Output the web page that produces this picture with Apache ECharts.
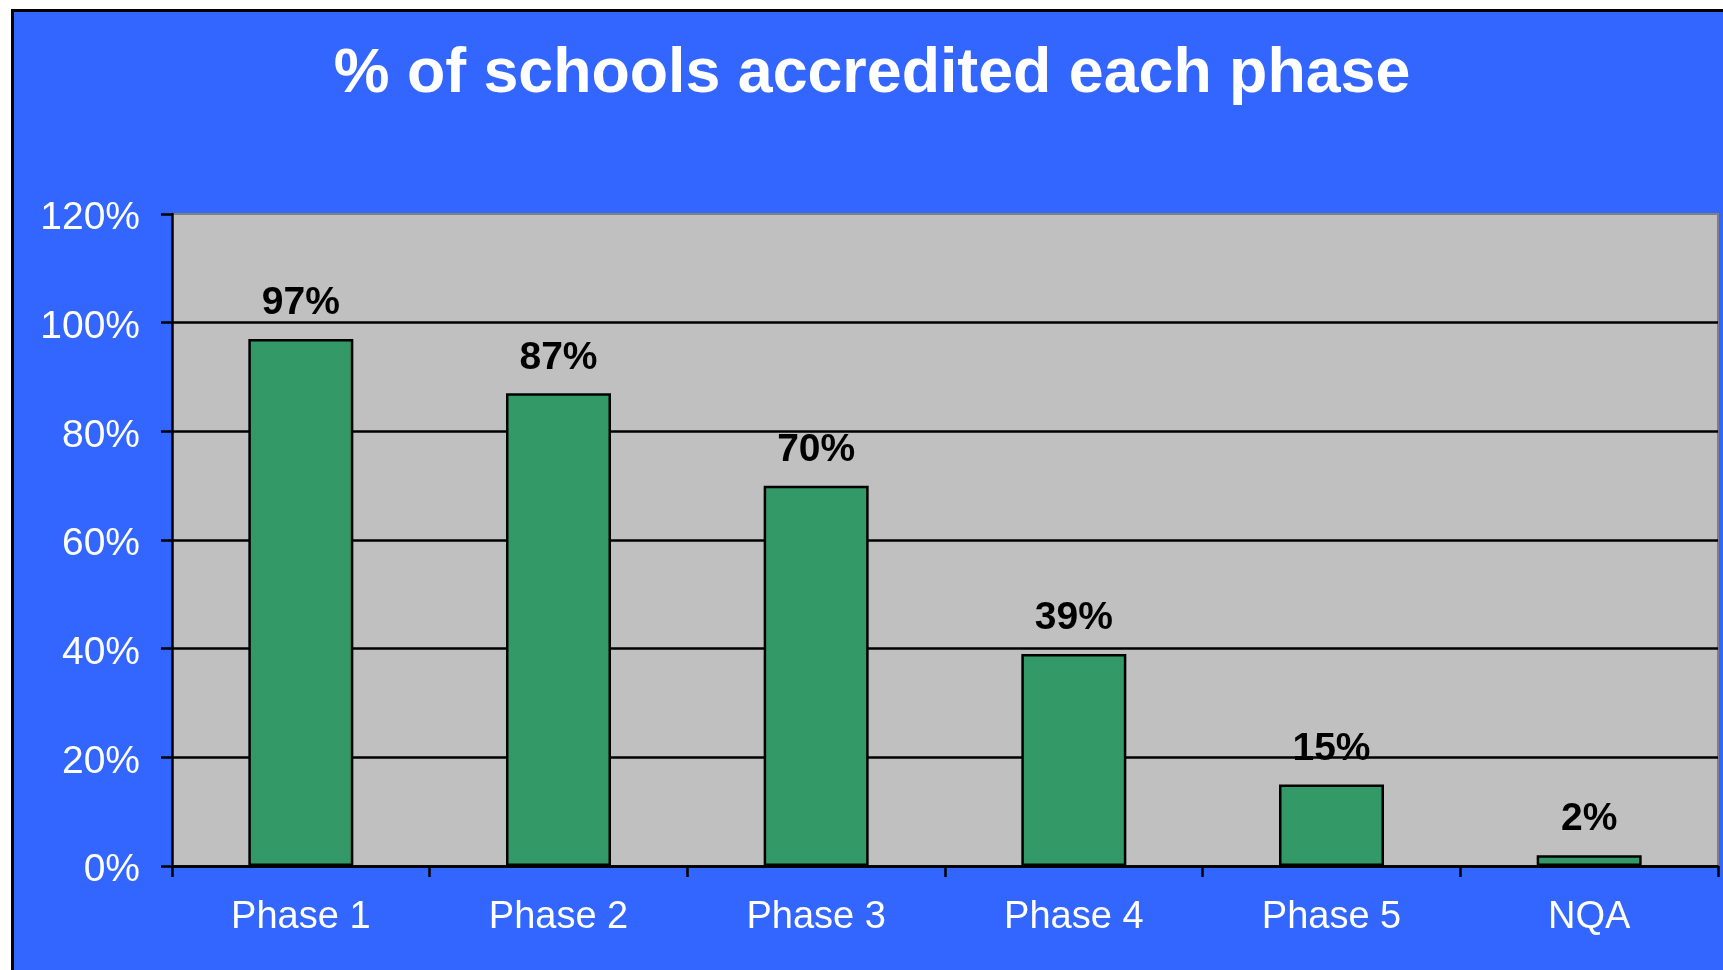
<!DOCTYPE html>
<html>
<head>
<meta charset="utf-8">
<script src="https://cdn.jsdelivr.net/npm/echarts@6/dist/echarts.min.js"></script>
<style>
  html, body { margin: 0; padding: 0; width: 1723px; height: 970px; overflow: hidden; background: #ffffff; }
  #frame { position: absolute; left: 11px; top: 9px; width: 1730px; height: 980px; background: #3366FF; border: 3px solid #000; box-sizing: border-box; }
  #chart { position: absolute; left: 0; top: 0; width: 1723px; height: 970px; }
</style>
</head>
<body>
<div id="frame"></div>
<div id="chart"></div>
<script>
const titleText = '% of schools accredited each phase';
const categories = ['Phase 1', 'Phase 2', 'Phase 3', 'Phase 4', 'Phase 5', 'NQA'];
const values = [97, 87, 70, 39, 15, 2];
const yMin = 0;
const yMax = 120;
const yInterval = 20;

const FONT = "'Liberation Sans', Arial, sans-serif";
const chart = echarts.init(document.getElementById('chart'), null, { renderer: 'canvas' });

chart.setOption({
  backgroundColor: 'transparent',
  animation: false,
  graphic: [{
    type: 'text',
    x: 872,
    y: 75,
    style: {
      text: titleText,
      fill: '#ffffff',
      font: 'bold 62.7px ' + FONT,
      align: 'center',
      verticalAlign: 'middle'
    }
  }],
  grid: {
    left: 172,
    top: 214,
    right: 5,
    bottom: 104,
    show: true,
    backgroundColor: '#C0C0C0',
    borderColor: '#808080',
    borderWidth: 2
  },
  xAxis: {
    type: 'category',
    data: categories,
    boundaryGap: true,
    axisLine: { show: true, lineStyle: { color: '#000', width: 2.5 } },
    axisTick: { show: true, inside: false, length: 11, alignWithLabel: false, lineStyle: { color: '#000', width: 2.5 } },
    axisLabel: { color: '#ffffff', fontSize: 38, fontFamily: FONT, margin: 33 },
    splitLine: { show: false }
  },
  yAxis: {
    type: 'value',
    min: yMin,
    max: yMax,
    interval: yInterval,
    axisLine: { show: true, lineStyle: { color: '#000', width: 2.5 } },
    axisTick: { show: true, inside: false, length: 11, lineStyle: { color: '#000', width: 2.5 } },
    axisLabel: { color: '#ffffff', fontSize: 39, fontFamily: FONT, margin: 32, verticalAlign: 'top', lineHeight: 9, formatter: '{value}%' },
    splitLine: { show: true, showMaxLine: false, lineStyle: { color: '#000', width: 2.5 } }
  },
  series: [{
    type: 'bar',
    data: values,
    barWidth: 105,
    itemStyle: { color: '#339966', borderColor: '#000', borderWidth: 2.5 },
    label: {
      show: true,
      position: 'top',
      distance: 16,
      formatter: '{c}%',
      color: '#000',
      fontSize: 39,
      fontWeight: 'bold',
      fontFamily: FONT
    }
  }]
});
</script>
</body>
</html>
